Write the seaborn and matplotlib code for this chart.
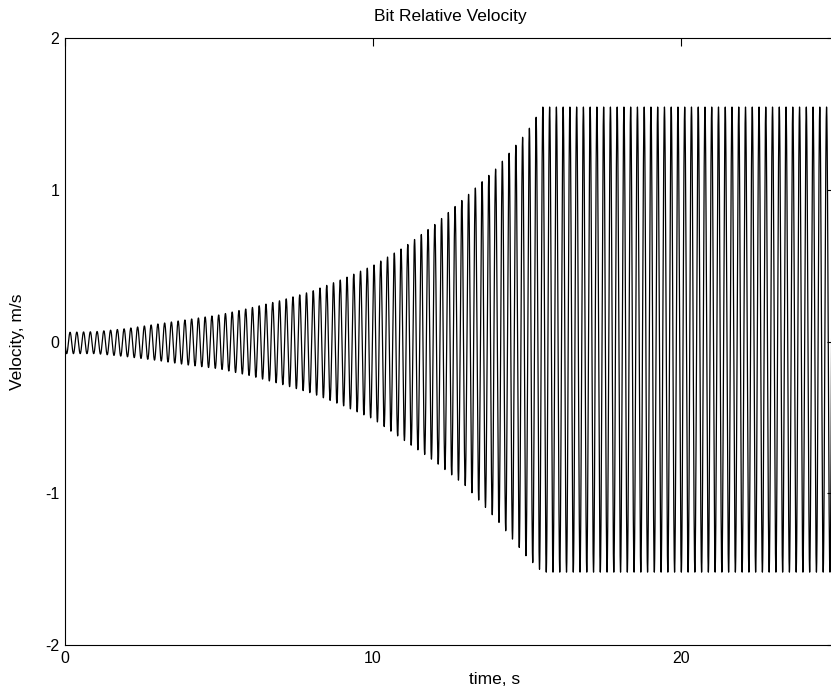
import numpy as np
import pandas as pd
import matplotlib
matplotlib.use("Agg")
import matplotlib.pyplot as plt
import seaborn as sns

# peak envelope of the oscillation (m/s)
env_time  = [0, 1, 2, 3, 4, 5, 6, 7, 8, 9, 10, 11, 12, 13, 14, 15, 15.5, 25]
env_upper = [0.06, 0.065, 0.085, 0.115, 0.145, 0.175, 0.22, 0.27, 0.33, 0.41,
             0.50, 0.62, 0.77, 0.95, 1.14, 1.38, 1.545, 1.545]
env_lower = [-0.08, -0.08, -0.10, -0.125, -0.155, -0.18, -0.225, -0.28, -0.34, -0.42,
             -0.51, -0.65, -0.79, -0.95, -1.17, -1.42, -1.52, -1.52]
osc_freq = 4.56   # Hz, about 35 cycles every 7.7 s on the chart
t_end = 25

x_ticks = [0, 10, 20]
y_ticks = [-2, -1, 0, 1, 2]

# build the trace from the envelope + carrier
t = np.linspace(0, t_end, 25001)
up = np.interp(t, env_time, env_upper)
lo = np.interp(t, env_time, env_lower)
vel = (up + lo) / 2 - (up - lo) / 2 * np.sin(2 * np.pi * osc_freq * t)
df = pd.DataFrame({"time": t, "velocity": vel})

sns.set_theme(style="white")
plt.rcParams["font.family"] = ["Liberation Sans", "DejaVu Sans"]
plt.rcParams["axes.unicode_minus"] = False
plt.rcParams["text.color"] = "black"
plt.rcParams["axes.labelcolor"] = "black"

fig = plt.figure(figsize=(8.31, 6.92), dpi=100)
ax = fig.add_axes([65 / 831, 47 / 692, 770 / 831, 607 / 692])

sns.lineplot(data=df, x="time", y="velocity", ax=ax, color="black",
             linewidth=0.9, estimator=None, sort=False)

ax.set_xlim(0, t_end)
ax.set_ylim(-2, 2)
ax.set_xticks(x_ticks)
ax.set_yticks(y_ticks)
ax.tick_params(direction="in", top=True, right=True, length=5.5, width=0.8,
               labelsize=11.5, colors="black", pad=4)
for s in ax.spines.values():
    s.set_color("black")
    s.set_linewidth(0.8)

ax.set_title("Bit Relative Velocity", fontsize=12.5, pad=12, color="black")
ax.set_xlabel("time, s", fontsize=12.5)
ax.set_ylabel("Velocity, m/s", fontsize=12.5)
ax.xaxis.set_label_coords(0.558, -0.045)
ax.yaxis.set_label_coords(-0.052, 0.5)

fig.savefig("out.png", dpi=100)
